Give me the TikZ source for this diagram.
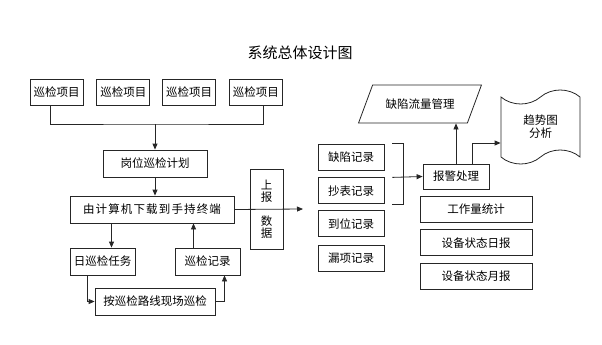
\documentclass[tikz,border=0pt]{standalone}
\usepackage{fontspec}
\usepackage{tikz}
\usetikzlibrary{positioning, shapes.geometric, shapes.symbols, arrows.meta}
\newfontfamily\cjk{Noto Sans CJK SC}
\newfontfamily\cjkwide[LetterSpace=10]{Noto Sans CJK SC}

\begin{document}
\begin{tikzpicture}[
        x=1pt, y=-1pt,
        box/.style = {draw=black!85, rectangle, line width=0.8pt, minimum height=26pt, inner sep=2pt, align=center, font=\cjk\fontsize{11.5}{13}\selectfont},
        itembox/.style = {box, minimum width=53pt},
        recbox/.style = {box, minimum width=66pt},
        repbox/.style = {box, minimum width=112pt},
        link/.style = {draw=black!85, line width=0.8pt},
        arrow/.style = {link, -{Triangle[length=6pt, width=5pt]}}
    ]
        \useasboundingbox (0,0) rectangle (602,345);

        \node (title) [font=\cjk\fontsize{15}{17}\selectfont] at (300,53) {系统总体设计图};

        % left: patrol flow
        \node (item1) [itembox] at (56.5,92) {巡检项目};
        \node (item2) [itembox, right=13pt of item1] {巡检项目};
        \node (item3) [itembox, right=12pt of item2] {巡检项目};
        \node (item4) [itembox, right=13pt of item3] {巡检项目};
        \coordinate (join) at (155,124);
        \node (plan) [box, minimum width=104pt, minimum height=27pt] at (155,163.5) {岗位巡检计划};
        \node (download) [box, minimum width=164pt, minimum height=27pt, font=\cjkwide\fontsize{11.5}{13}\selectfont] at (152,209.5) {由计算机下载到手持终端};
        \node (daily) [box, minimum width=65pt, minimum height=27pt] at (102.5,261.5) {日巡检任务};
        \node (record) [box, minimum width=65pt, minimum height=27pt] at (207.5,261.5) {巡检记录};
        \node (route) [box, minimum width=120pt, minimum height=27pt] at (155,301.5) {按巡检路线现场巡检};
        \node (report) [box, minimum width=33pt, minimum height=80pt, font=\cjk\fontsize{11.5}{12}\selectfont] at (266.5,209) {上\\报\\[12pt]数\\据};
        \coordinate (upload) at (303,209);

        % right: records and outputs
        \node (defect) [recbox] at (351,157) {缺陷记录};
        \node (meter) [recbox, below=7pt of defect] {抄表记录};
        \node (arrive) [recbox, below=6pt of meter] {到位记录};
        \node (miss) [recbox, below=8pt of arrive] {漏项记录};
        \node (alarm) [recbox, minimum height=25pt] at (456,176.5) {报警处理};
        \node (flow) [draw=black!85, line width=0.8pt, trapezium, trapezium left angle=57, trapezium right angle=123, trapezium stretches=true, minimum width=124pt, minimum height=38pt, font=\cjk\fontsize{11.5}{13}\selectfont] at (420,104) {缺陷流量管理};
        \node (trend) [draw=black!85, line width=0.8pt, tape, tape bend height=14pt, minimum width=79pt, minimum height=74pt, align=center, font=\cjk\fontsize{11.5}{13}\selectfont] at (540.5,127) {趋势图\\分析};
        \node (workload) [repbox] at (476,209) {工作量统计};
        \node (dayrep) [repbox, below=7pt of workload] {设备状态日报};
        \node (monrep) [repbox, below=7pt of dayrep] {设备状态月报};

        \draw [link] ([xshift=-6pt]item1.south) |- (join) -| ([xshift=7pt]item4.south);
        \draw [arrow] (join) -- (plan);
        \draw [arrow] (plan) -- (plan |- download.north);
        \draw [arrow] ([xshift=9pt]daily.north |- download.south) -- ([xshift=9pt]daily.north);
        \draw [arrow] ([xshift=-14pt]record.north) -- ([xshift=-14pt]record.north |- download.south);
        \draw [arrow] ([xshift=-15pt]daily.south) |- (route.west);
        \draw [arrow] (route.east) -| ([xshift=17pt]record.south);
        \draw [arrow] (download.east) -- (upload);

        \draw [link] ([xshift=8pt]defect.north east) -| ([xshift=19pt]meter.south east) -- ([xshift=8pt]meter.south east);
        \draw [arrow] ([xshift=8pt]meter.north east) -- (alarm.west);
        \draw [arrow] (alarm.north) -- (alarm.north |- flow.south);
        \draw [arrow] ([xshift=16pt]alarm.north) |- ([yshift=-16pt]trend.west);

    \end{tikzpicture}
\end{document}
